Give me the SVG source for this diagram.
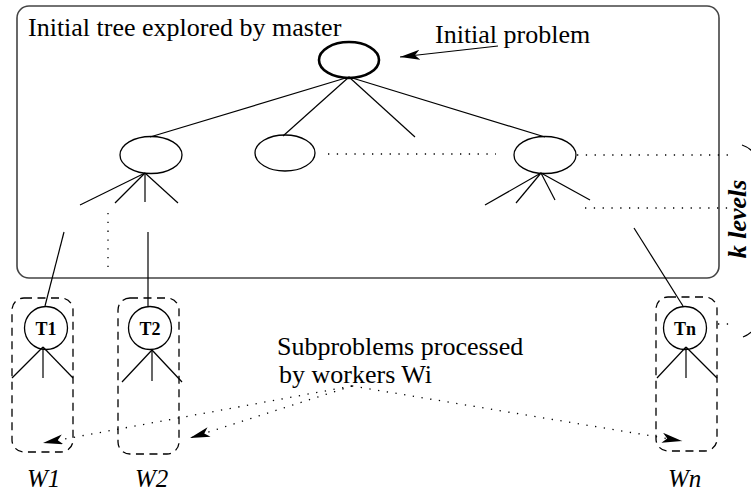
<svg xmlns="http://www.w3.org/2000/svg" width="751" height="492" viewBox="0 0 751 492" font-family="'Liberation Serif', 'Times New Roman', Times, serif">
<style>
.ln{stroke:#000;stroke-width:1.2;fill:none}
.dot{stroke:#000;stroke-width:1.3;fill:none;stroke-dasharray:1.3 7.5}
.dash{stroke:#000;stroke-width:1.3;fill:none;stroke-dasharray:8 5.5}
.nd{stroke:#000;stroke-width:1.3;fill:#fff}
text{font-family:'Liberation Serif','Times New Roman',Times,serif}
.t{font-size:26px;fill:#000}
.tb{font-size:18px;font-weight:bold;fill:#000;text-anchor:middle}
.ti{font-size:25px;font-style:italic;fill:#000}
</style>
<defs>
<marker id="ah" markerUnits="userSpaceOnUse" markerWidth="24" markerHeight="12" refX="20" refY="5" orient="auto">
<path d="M0,0 L20,5 L0,10 L5,5 Z" fill="#000"/>
</marker>
</defs>
<g id="master-box">
<rect x="17" y="6" width="702" height="272" rx="12" fill="none" stroke="#444" stroke-width="1.6"/>
<text class="t" x="28" y="36">Initial tree explored by master</text>
</g>
<g id="root">
<ellipse cx="349" cy="60" rx="30" ry="18" fill="#fff" stroke="#000" stroke-width="2.6"/>
</g>
<g id="label-initial">
<text class="t" x="435" y="43">Initial problem</text>
</g>
<g id="child-left"><ellipse class="nd" cx="151" cy="155" rx="31" ry="18.5"/></g>
<g id="child-mid"><ellipse class="nd" cx="285" cy="153" rx="30" ry="18"/></g>
<g id="child-right"><ellipse class="nd" cx="545" cy="155" rx="31" ry="18.5"/></g>
<g id="T1"><circle class="nd" cx="46" cy="328" r="21.5"/><text class="tb" x="46" y="335">T1</text></g>
<g id="T2"><circle class="nd" cx="150" cy="328" r="21.5"/><text class="tb" x="150" y="335">T2</text></g>
<g id="Tn"><circle class="nd" cx="685" cy="328" r="21.5"/><text class="tb" x="685" y="335">Tn</text></g>
<g id="W1"><rect class="dash" x="12" y="298" width="61" height="154" rx="12"/><text class="ti" x="27" y="487">W1</text></g>
<g id="W2"><rect class="dash" x="118" y="298" width="61" height="156" rx="12"/><text class="ti" x="135" y="487">W2</text></g>
<g id="Wn"><rect class="dash" x="656" y="297" width="61" height="154" rx="12"/><text class="ti" x="668" y="487">Wn</text></g>
<g id="label-sub">
<text class="t" x="277" y="355">Subproblems processed</text>
<text class="t" x="279" y="383">by workers Wi</text>
</g>
<g id="label-k">
<text x="746" y="219" transform="rotate(-90 746 219)" text-anchor="middle" font-size="26" font-weight="bold" font-style="italic">k levels</text>
</g>
<g id="connectors">
<line class="ln" x1="498" y1="46" x2="400" y2="57" marker-end="url(#ah)"/>
<line class="ln" x1="349" y1="77" x2="150" y2="137"/>
<line class="ln" x1="349" y1="77" x2="283" y2="136"/>
<line class="ln" x1="349" y1="77" x2="415" y2="137"/>
<line class="ln" x1="349" y1="77" x2="545" y2="137"/>
<line class="ln" x1="145" y1="173" x2="80" y2="205"/>
<line class="ln" x1="145" y1="173" x2="115" y2="203"/>
<line class="ln" x1="145" y1="173" x2="145" y2="202"/>
<line class="ln" x1="145" y1="173" x2="178" y2="203"/>
<line class="ln" x1="541" y1="173" x2="485" y2="205"/>
<line class="ln" x1="541" y1="173" x2="516" y2="203"/>
<line class="ln" x1="541" y1="173" x2="555" y2="200"/>
<line class="ln" x1="541" y1="173" x2="590" y2="200"/>
<line class="dot" x1="328" y1="154" x2="496" y2="154"/>
<line class="dot" x1="577" y1="155" x2="732" y2="155"/>
<line class="dot" x1="585" y1="208" x2="732" y2="208"/>
<line class="dot" x1="108" y1="213" x2="108" y2="272"/>
<line class="dot" x1="718" y1="324" x2="730" y2="324"/>
<line class="ln" x1="64" y1="232" x2="45" y2="306"/>
<line class="ln" x1="148" y1="232" x2="148" y2="306"/>
<line class="ln" x1="634" y1="228" x2="683" y2="306"/>
<line class="ln" x1="43" y1="347" x2="12" y2="378"/>
<line class="ln" x1="43" y1="347" x2="43" y2="378"/>
<line class="ln" x1="43" y1="347" x2="73" y2="378"/>
<line class="ln" x1="152" y1="350" x2="122" y2="382"/>
<line class="ln" x1="152" y1="350" x2="152" y2="381"/>
<line class="ln" x1="152" y1="350" x2="182" y2="382"/>
<line class="ln" x1="686" y1="347" x2="657" y2="378"/>
<line class="ln" x1="686" y1="347" x2="686" y2="378"/>
<line class="ln" x1="686" y1="347" x2="717" y2="378"/>
<line class="dot" x1="352" y1="386" x2="43" y2="443" marker-end="url(#ah)"/>
<line class="dot" x1="352" y1="386" x2="190" y2="438" marker-end="url(#ah)"/>
<line class="dot" x1="352" y1="386" x2="682" y2="441" marker-end="url(#ah)"/>
<path class="ln" d="M742 145 A41 97 0 0 1 743 337"/>
</g>
</svg>
